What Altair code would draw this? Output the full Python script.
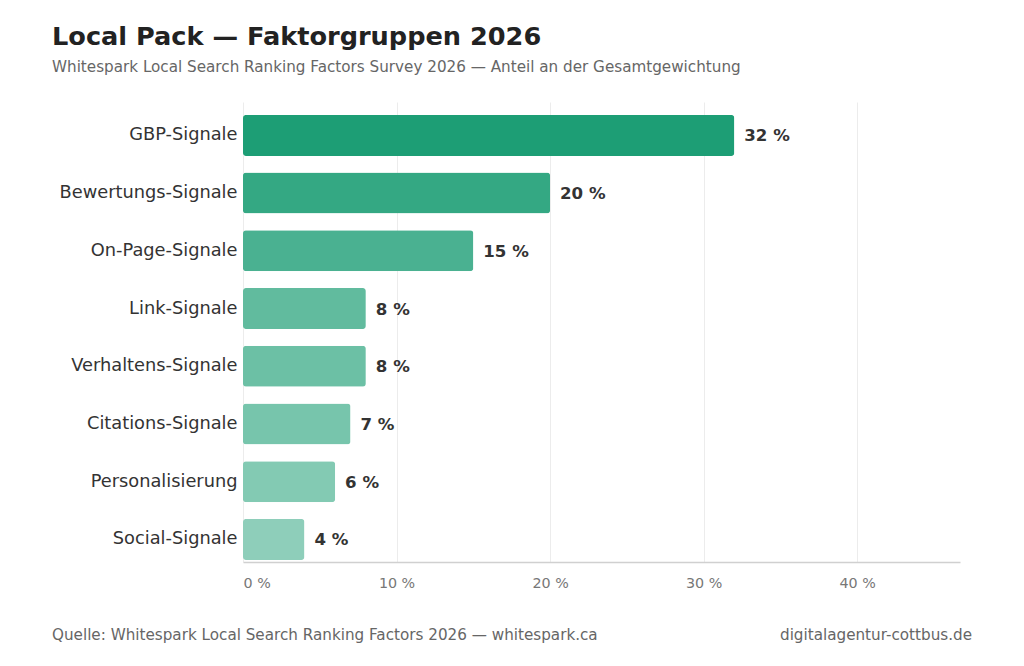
import altair as alt
import pandas as pd

categories = ["GBP-Signale", "Bewertungs-Signale", "On-Page-Signale", "Link-Signale",
              "Verhaltens-Signale", "Citations-Signale", "Personalisierung", "Social-Signale"]
values = [32, 20, 15, 8, 8, 7, 6, 4]
x_ticks = [0, 10, 20, 30, 40]

title_text = "Local Pack — Faktorgruppen 2026"
subtitle_text = "Whitespark Local Search Ranking Factors Survey 2026 — Anteil an der Gesamtgewichtung"
source_text = "Quelle: Whitespark Local Search Ranking Factors 2026 — whitespark.ca"
brand_text = "digitalagentur-cottbus.de"

df = pd.DataFrame({"cat": categories, "val": values})
df["label"] = df["val"].astype(str) + " %"

W, H = 717, 460
PAD_L, PAD_T = 243, 102
FONT = "DejaVu Sans"
BASE = (0x1D, 0x9E, 0x75)
ALPHAS = [1.0, 0.9, 0.8, 0.7, 0.65, 0.6, 0.55, 0.5]


def tint(alpha):
    r, g, b = (round(255 - alpha * (255 - c)) for c in BASE)
    return f"#{r:02x}{g:02x}{b:02x}"


bar_colors = [tint(a) for a in ALPHAS]

y_enc = alt.Y("cat:N", sort=categories, title=None,
              scale=alt.Scale(paddingInner=0.29, paddingOuter=0.13, align=0.86),
              axis=alt.Axis(domain=False, ticks=False, labelPadding=6, labelFontSize=17.8,
                            labelColor="#333333", labelFont=FONT, grid=False))
x_enc = alt.X("val:Q", title=None,
              scale=alt.Scale(domain=[0, 46.7], nice=False, zero=True),
              axis=alt.Axis(values=x_ticks, labelExpr="datum.value + ' %'", ticks=False,
                            domain=True, domainColor="#d0d0d0", domainWidth=1.5,
                            grid=True, gridColor="#ececec", gridWidth=1,
                            labelPadding=14, labelFontSize=14.3, labelColor="#777777",
                            labelFont=FONT))

bars = alt.Chart(df).mark_bar(cornerRadius=3).encode(
    y=y_enc, x=x_enc,
    color=alt.Color("cat:N", sort=categories, legend=None,
                    scale=alt.Scale(domain=categories, range=bar_colors)),
)

labels = alt.Chart(df).mark_text(align="left", baseline="middle", dx=10, dy=1,
                                 font=FONT, fontSize=16.6, fontWeight="bold",
                                 color="#333333").encode(
    y=alt.Y("cat:N", sort=categories),
    x="val:Q",
    text="label:N",
)

foot = pd.DataFrame({"t": [source_text]})
foot_r = pd.DataFrame({"t": [brand_text]})
footer_left = alt.Chart(foot).mark_text(align="left", baseline="middle", font=FONT,
                                        fontSize=15.2, color="#666666").encode(
    x=alt.value(52 - PAD_L), y=alt.value(635 - PAD_T), text="t:N")
footer_right = alt.Chart(foot_r).mark_text(align="right", baseline="middle", font=FONT,
                                           fontSize=15.2, color="#666666").encode(
    x=alt.value(972 - PAD_L), y=alt.value(635 - PAD_T), text="t:N")

chart = alt.layer(bars, labels, footer_left, footer_right).properties(
    width=W, height=H,
    background="white",
    autosize=alt.AutoSizeParams(type="none"),
    padding={"left": PAD_L, "top": PAD_T, "right": 1024 - PAD_L - W, "bottom": 666 - PAD_T - H},
    title=alt.TitleParams(text=title_text, subtitle=subtitle_text, anchor="start", frame="group",
                          dx=52 - PAD_L, offset=27, font=FONT, fontSize=25.6, fontWeight="bold",
                          color="#222222", subtitleFont=FONT, subtitleFontSize=15.2,
                          subtitleColor="#666666", subtitlePadding=9),
).configure_view(stroke="transparent", strokeWidth=0)

chart.save("out.html", embed_options={"renderer": "svg", "actions": False})
